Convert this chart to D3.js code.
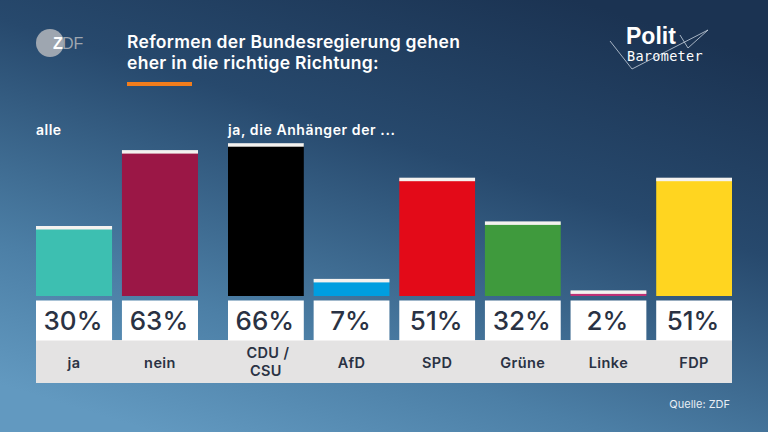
<!DOCTYPE html>
<html>
<head>
<meta charset="utf-8">
<script src="https://cdn.jsdelivr.net/npm/d3@7"></script>
<style>
  html, body { margin: 0; padding: 0; background: #1d3655; }
  svg { display: block; font-family: Inter, "Open Sans", "Liberation Sans", Arial, sans-serif; }
</style>
</head>
<body>
<div id="chart"></div>
<script>
var allCategories = ["ja", "nein"];
var allValues = [30, 63];
var allColors = ["#3dbfb1", "#9b1746"];

var partyCategories = ["CDU/CSU", "AfD", "SPD", "Grüne", "Linke", "FDP"];
var partyValues = [66, 7, 51, 32, 2, 51];
var partyColors = ["#000000", "#009ee0", "#e30a18", "#3f9a3d", "#be3075", "#ffd520"];

var width = 768;
var height = 432;

var svg = d3
  .select("#chart")
  .append("svg")
  .attr("width", width)
  .attr("height", height);

// background gradient
var defs = svg.append("defs");
var grad = defs
  .append("linearGradient")
  .attr("id", "bg")
  .attr("x1", "0.75")
  .attr("y1", "0")
  .attr("x2", "0.2")
  .attr("y2", "1");
grad.append("stop").attr("offset", "0").attr("stop-color", "#1b3352");
grad.append("stop").attr("offset", "0.35").attr("stop-color", "#27496d");
grad.append("stop").attr("offset", "0.75").attr("stop-color", "#4c7fa6");
grad.append("stop").attr("offset", "1").attr("stop-color", "#6299c0");
svg.append("rect").attr("width", width).attr("height", height).attr("fill", "url(#bg)");

// scales
var baseY = 296;
var yScale = d3.scaleLinear().domain([0, 100]).range([baseY, baseY - 230]);

var xAll = d3.scaleBand().domain(allCategories).range([36, 198]).paddingInner(0.115);
var xParty = d3.scaleBand().domain(partyCategories).range([228, 732]).paddingInner(0.115);

// category strip
svg
  .append("rect")
  .attr("x", 36)
  .attr("y", 340)
  .attr("width", 732 - 36)
  .attr("height", 43)
  .attr("fill", "#e4e3e3");

function drawGroup(cats, vals, cols, xScale) {
  var data = cats.map(function (c, i) {
    return { cat: c, value: vals[i], color: cols[i] };
  });
  var g = svg.append("g");
  var mid = (d) => xScale(d.cat) + xScale.bandwidth() / 2;

  g.selectAll(".bar")
    .data(data)
    .enter()
    .append("rect")
    .attr("class", "bar")
    .attr("x", (d) => xScale(d.cat))
    .attr("y", (d) => yScale(d.value))
    .attr("width", xScale.bandwidth())
    .attr("height", (d) => baseY - yScale(d.value))
    .attr("fill", (d) => d.color);

  // white cap on top of each bar
  g.selectAll(".cap")
    .data(data)
    .enter()
    .append("rect")
    .attr("class", "cap")
    .attr("x", (d) => xScale(d.cat))
    .attr("y", (d) => yScale(d.value) - 1)
    .attr("width", xScale.bandwidth())
    .attr("height", 3.5)
    .attr("fill", "#f4f2ef");

  g.selectAll(".box")
    .data(data)
    .enter()
    .append("rect")
    .attr("class", "box")
    .attr("x", (d) => xScale(d.cat))
    .attr("y", 300.5)
    .attr("width", xScale.bandwidth())
    .attr("height", 40)
    .attr("fill", "#ffffff");

  g.selectAll(".val")
    .data(data)
    .enter()
    .append("text")
    .attr("class", "val")
    .attr("x", (d) => mid(d) - 1)
    .attr("y", 329.5)
    .attr("text-anchor", "middle")
    .style("font-size", "26px")
    .style("font-weight", 500)
    .style("fill", "#2a3243")
    .text((d) => d.value + "%");

  g.selectAll(".cat")
    .data(data)
    .enter()
    .append("text")
    .attr("class", "cat")
    .attr("x", mid)
    .attr("y", (d) => (d.cat.indexOf("/") > -1 ? 358 : 367.5))
    .attr("text-anchor", "middle")
    .style("font-size", "14.5px")
    .style("font-weight", 600)
    .style("letter-spacing", "0.4px")
    .style("fill", "#2a3243")
    .each(function (d) {
      var parts = d.cat.split("/");
      var t = d3.select(this);
      if (parts.length > 1) {
        t.append("tspan").attr("x", mid(d) + 2).text(parts[0] + " /");
        t.append("tspan").attr("x", mid(d)).attr("dy", 17.5).text(parts[1]);
      } else {
        t.text(d.cat);
      }
    });
}

drawGroup(allCategories, allValues, allColors, xAll);
drawGroup(partyCategories, partyValues, partyColors, xParty);

// group headers
svg
  .append("text")
  .attr("x", 36)
  .attr("y", 135)
  .style("font-size", "14px")
  .style("font-weight", 600)
  .style("letter-spacing", "0.5px")
  .style("fill", "#ffffff")
  .text("alle");
svg
  .append("text")
  .attr("x", 228)
  .attr("y", 135)
  .style("font-size", "14px")
  .style("font-weight", 600)
  .style("letter-spacing", "0.6px")
  .style("fill", "#ffffff")
  .text("ja, die Anhänger der ...");

// title
var title = svg
  .append("text")
  .attr("x", 127)
  .attr("y", 48)
  .style("font-size", "17.5px")
  .style("font-weight", 600)
  .style("letter-spacing", "0.3px")
  .style("fill", "#ffffff");
title.append("tspan").attr("x", 127).text("Reformen der Bundesregierung gehen");
title.append("tspan").attr("x", 127).attr("dy", 21).text("eher in die richtige Richtung:");

svg
  .append("rect")
  .attr("x", 127)
  .attr("y", 82)
  .attr("width", 65)
  .attr("height", 4)
  .attr("fill", "#f27d1c");

// ZDF logo
svg.append("circle").attr("cx", 50).attr("cy", 43).attr("r", 14).attr("fill", "#9ea6b0");
svg
  .append("text")
  .attr("x", 53)
  .attr("y", 49)
  .style("font-family", "'Liberation Sans', Arial, sans-serif")
  .style("font-size", "16px")
  .style("font-weight", "bold")
  .style("fill", "#ffffff")
  .text("Z");
svg
  .append("text")
  .attr("x", 62)
  .attr("y", 49)
  .style("font-family", "'Liberation Sans', Arial, sans-serif")
  .style("font-size", "16px")
  .style("fill", "#9ea6b0")
  .text("DF");

// Politbarometer logo
svg
  .append("path")
  .attr("d", "M610,41 L632,69 L708,30")
  .attr("fill", "none")
  .attr("stroke", "#c9d3de")
  .attr("stroke-width", 0.8);
svg
  .append("path")
  .attr("d", "M680,35 L688,48 L708,30")
  .attr("fill", "none")
  .attr("stroke", "#c9d3de")
  .attr("stroke-width", 0.8);
svg
  .append("text")
  .attr("x", 626)
  .attr("y", 44)
  .style("font-family", "'Liberation Sans', Arial, sans-serif")
  .style("font-size", "23px")
  .style("font-weight", "bold")
  .style("fill", "#ffffff")
  .text("Polit");
svg
  .append("text")
  .attr("x", 627)
  .attr("y", 61)
  .style("font-family", "'DejaVu Sans Mono', monospace")
  .style("font-size", "13.5px")
  .style("letter-spacing", "0.3px")
  .style("fill", "#ffffff")
  .text("Barometer");

// source
svg
  .append("text")
  .attr("x", 730)
  .attr("y", 408)
  .attr("text-anchor", "end")
  .style("font-size", "11px")
  .style("fill", "#e8eef4")
  .text("Quelle: ZDF");
</script>
</body>
</html>
